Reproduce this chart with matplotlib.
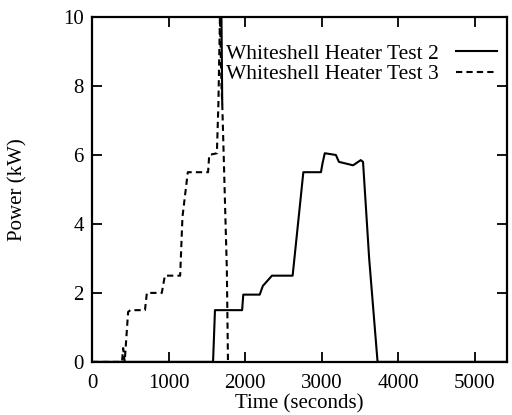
import matplotlib.pyplot as plt
import numpy as np

plt.rcParams.update({'font.family': 'Liberation Serif', 'font.size': 15})

# Whiteshell heater test 2 (solid); NaN splits the short trace near the test 3 peak
t2_time = [1690, 1700, np.nan, 0, 1580, 1605, 1960, 1975, 2190, 2230, 2350, 2620, 2760,
           2990, 3010, 3040, 3185, 3225, 3410, 3510, 3540, 3620, 3730, 5420]
t2_power = [10.0, 7.5, np.nan, 0, 0, 1.5, 1.5, 1.95, 1.95, 2.2, 2.5, 2.5, 5.5,
            5.5, 5.75, 6.05, 6.0, 5.8, 5.7, 5.85, 5.8, 3.0, 0, 0]

# Whiteshell heater test 3 (dashed)
t3_time = [0, 390, 405, 425, 470, 500, 690, 715, 910, 950, 1150, 1180, 1250,
           1515, 1530, 1630, 1650, 1670, 1690, 1700, 1710, 1760, 1775]
t3_power = [0, 0, 0.4, 0, 1.45, 1.5, 1.5, 2.0, 2.0, 2.5, 2.5, 4.2, 5.5,
            5.5, 6.0, 6.05, 7.5, 10.0, 8.0, 7.5, 6.7, 2.7, 0]

x_ticks = [0, 1000, 2000, 3000, 4000, 5000]
y_ticks = [0, 2, 4, 6, 8, 10]

fig = plt.figure(figsize=[5.12, 4.15], dpi=100)
ax = fig.add_axes([0.18, 0.128, 0.81, 0.831])

ax.plot(t2_time, t2_power, color='black', lw=1.5, label='Whiteshell Heater Test 2')
ax.plot(t3_time, t3_power, color='black', lw=1.5, ls=(0, (3, 2)),
        label='Whiteshell Heater Test 3')

ax.set_xlim(0, 5420)
ax.set_ylim(0, 10)
ax.set_xticks(x_ticks)
ax.set_yticks(y_ticks)
ax.tick_params(direction='in', length=7, width=1.3, top=True, right=True)
ax.tick_params(axis='x', pad=9)
ax.tick_params(axis='y', pad=6)
for s in ax.spines.values():
    s.set_linewidth(1.6)

ax.set_xlabel('Time (seconds)')
ax.xaxis.set_label_coords(0.5, -0.095)
ax.xaxis.label.set_va('top')
ax.set_ylabel('Power (kW)')
ax.yaxis.set_label_coords(-0.178, 0.5)
ax.yaxis.label.set_va('center')

leg = ax.legend(loc='upper right', bbox_to_anchor=(0.975, 0.922), frameon=False,
                markerfirst=False, handlelength=1.9, labelspacing=0.0,
                borderaxespad=0, handletextpad=0.8, borderpad=0, fontsize=15.5)

fig.savefig('out.png', dpi=100)
